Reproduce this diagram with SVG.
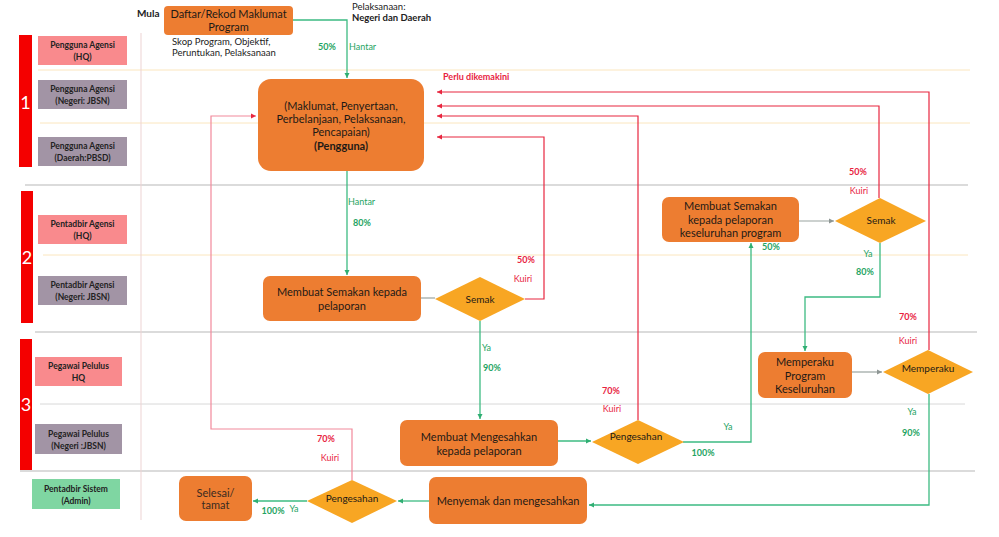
<svg xmlns="http://www.w3.org/2000/svg" width="999" height="537" viewBox="0 0 999 537">
<style>
text{font-family:Lato,"Liberation Sans",sans-serif;}
.bar{fill:#F40000;}
.barn{fill:#fff;font-size:18px;text-anchor:middle;}
.lp{fill:#F98A8D;}
.lg{fill:#A294A5;}
.la{fill:#7FD6A2;}
.lt{font-size:8.5px;font-weight:bold;fill:#222;text-anchor:middle;}
.box{fill:#ED7D31;}
.dia{fill:#F8A623;}
.bt{font-size:11px;fill:#1E1A16;text-anchor:middle;}
.dt{font-size:10px;fill:#1E1A16;text-anchor:middle;}
.note{font-size:9.5px;fill:#222;}
.gl{fill:#1FA463;font-size:9px;}
.gb{fill:#1FA463;font-size:9px;font-weight:bold;}
.rl{fill:#E8233F;font-size:9px;}
.rb{fill:#E8233F;font-size:9px;font-weight:bold;}
.ly{stroke:#FBE6BE;stroke-width:1;}
.lgr{stroke:#B8B8B8;stroke-width:1.2;}
.llg{stroke:#D8D8D8;stroke-width:1;}
.cg{fill:none;stroke:#3DBB82;stroke-width:1.3;}
.cr{fill:none;stroke:#E8263F;stroke-width:1.2;}
.cp{fill:none;stroke:#F2899B;stroke-width:1.2;}
.cy{fill:none;stroke:#9AA3A0;stroke-width:1.2;}
</style>
<defs>
<marker id="ag" markerWidth="6" markerHeight="6" refX="5" refY="3" orient="auto" markerUnits="userSpaceOnUse"><path d="M0,0.5 L5,3 L0,5.5 z" fill="#2FAE72"/></marker>
<marker id="ar" markerWidth="6" markerHeight="6" refX="5" refY="3" orient="auto" markerUnits="userSpaceOnUse"><path d="M0,0.5 L5,3 L0,5.5 z" fill="#E8263F"/></marker>
<marker id="ap" markerWidth="6" markerHeight="6" refX="5" refY="3" orient="auto" markerUnits="userSpaceOnUse"><path d="M0,0.5 L5,3 L0,5.5 z" fill="#E8263F"/></marker>
<marker id="ay" markerWidth="6" markerHeight="6" refX="5" refY="3" orient="auto" markerUnits="userSpaceOnUse"><path d="M0,0.5 L5,3 L0,5.5 z" fill="#8E9694"/></marker>
</defs>
<rect width="999" height="537" fill="#fff"/>

<g id="swimlanes">
<line class="ly" x1="38" y1="70" x2="970" y2="70"/>
<line class="ly" x1="40" y1="123" x2="970" y2="123"/>
<line class="lgr" x1="25" y1="185" x2="968" y2="185"/>
<line class="ly" x1="43" y1="255" x2="968" y2="255"/>
<line class="lgr" x1="35" y1="332" x2="977" y2="332"/>
<line class="llg" x1="40" y1="404" x2="965" y2="404"/>
<line class="lgr" x1="20" y1="471" x2="975" y2="471"/>
<line x1="141" y1="33" x2="141" y2="520" stroke="#EDD3D3" stroke-width="1"/>
<rect class="bar" x="19" y="35" width="13" height="132"/>
<text class="barn" x="25.5" y="109">1</text>
<rect class="bar" x="21" y="191" width="12" height="132"/>
<text class="barn" x="27" y="264">2</text>
<rect class="bar" x="20" y="339" width="12" height="131"/>
<text class="barn" x="26" y="411">3</text>
</g>

<g id="lane-labels">
<g id="lane-pengguna-hq"><rect class="lp" x="38" y="36" width="89" height="29"/><text class="lt" x="82.5" y="48">Pengguna Agensi</text><text class="lt" x="82.5" y="60">(HQ)</text></g>
<g id="lane-pengguna-negeri"><rect class="lg" x="38" y="80" width="89" height="29"/><text class="lt" x="82.5" y="92">Pengguna Agensi</text><text class="lt" x="82.5" y="104">(Negeri: JBSN)</text></g>
<g id="lane-pengguna-daerah"><rect class="lg" x="38" y="137" width="89" height="29"/><text class="lt" x="82.5" y="149">Pengguna Agensi</text><text class="lt" x="82.5" y="161">(Daerah:PBSD)</text></g>
<g id="lane-pentadbir-hq"><rect class="lp" x="38" y="215" width="89" height="29"/><text class="lt" x="82.5" y="227">Pentadbir Agensi</text><text class="lt" x="82.5" y="239">(HQ)</text></g>
<g id="lane-pentadbir-negeri"><rect class="lg" x="38" y="276" width="89" height="29"/><text class="lt" x="82.5" y="288">Pentadbir Agensi</text><text class="lt" x="82.5" y="300">(Negeri: JBSN)</text></g>
<g id="lane-pelulus-hq"><rect class="lp" x="35" y="357" width="87" height="29"/><text class="lt" x="78.5" y="369">Pegawai Pelulus</text><text class="lt" x="78.5" y="381">HQ</text></g>
<g id="lane-pelulus-negeri"><rect class="lg" x="35" y="424" width="87" height="30"/><text class="lt" x="78.5" y="437">Pegawai Pelulus</text><text class="lt" x="78.5" y="449">(Negeri :JBSN)</text></g>
<g id="lane-admin"><rect class="la" x="32" y="479" width="88" height="30"/><text class="lt" x="76" y="492">Pentadbir Sistem</text><text class="lt" x="76" y="504">(Admin)</text></g>
</g>

<g id="connectors">
<path class="cg" d="M293,20 H347 V78" marker-end="url(#ag)"/>
<path class="cg" d="M347,171 V275" marker-end="url(#ag)"/>
<path class="cy" d="M421,298 H435"/>
<path class="cr" d="M525,299 H544 V137 H437" marker-end="url(#ar)"/>
<path class="cg" d="M480,321 V419" marker-end="url(#ag)"/>
<path class="cg" d="M558,441 H591" marker-end="url(#ag)"/>
<path class="cr" d="M638,420 V116 H437" marker-end="url(#ar)"/>
<path class="cg" d="M683,442 H751 V243" marker-end="url(#ag)"/>
<path class="cy" d="M799,221 H834" marker-end="url(#ay)"/>
<path class="cr" d="M879,198 V106 H437" marker-end="url(#ar)"/>
<path class="cg" d="M880,243 V297 H805 V351" marker-end="url(#ag)"/>
<path class="cy" d="M852,372 H882" marker-end="url(#ay)"/>
<path class="cr" d="M929,350 V92 H437" marker-end="url(#ar)"/>
<path class="cg" d="M929,394 V505 H589" marker-end="url(#ag)"/>
<path class="cg" d="M429,501 H398" marker-end="url(#ag)"/>
<path class="cg" d="M307,501 H253" marker-end="url(#ag)"/>
<path class="cp" d="M352,480 V429 H211 V116 H256" marker-end="url(#ap)"/>
</g>

<g id="connector-labels">
<text class="gb" x="327" y="50" text-anchor="middle">50%</text>
<text class="gl" x="349" y="50">Hantar</text>
<text class="gl" x="348" y="205">Hantar</text>
<text class="gb" x="362" y="226" text-anchor="middle">80%</text>
<text class="rb" x="526" y="263" text-anchor="middle">50%</text>
<text class="rl" x="523" y="282" text-anchor="middle">Kuiri</text>
<text class="gl" x="482" y="351">Ya</text>
<text class="gb" x="483" y="371">90%</text>
<text class="rb" x="326" y="442" text-anchor="middle">70%</text>
<text class="rl" x="330" y="461" text-anchor="middle">Kuiri</text>
<text class="rb" x="611" y="394" text-anchor="middle">70%</text>
<text class="rl" x="612" y="412" text-anchor="middle">Kuiri</text>
<text class="gl" x="728" y="430" text-anchor="middle">Ya</text>
<text class="gb" x="703" y="456" text-anchor="middle">100%</text>
<text class="gb" x="771" y="250" text-anchor="middle">50%</text>
<text class="rb" x="858" y="175" text-anchor="middle">50%</text>
<text class="rl" x="859" y="194" text-anchor="middle">Kuiri</text>
<text class="gl" x="868" y="257" text-anchor="middle">Ya</text>
<text class="gb" x="865" y="275" text-anchor="middle">80%</text>
<text class="rb" x="908" y="320" text-anchor="middle">70%</text>
<text class="rl" x="908" y="344" text-anchor="middle">Kuiri</text>
<text class="gl" x="912" y="415" text-anchor="middle">Ya</text>
<text class="gb" x="911" y="436" text-anchor="middle">90%</text>
<text class="gb" x="273" y="514" text-anchor="middle">100%</text>
<text class="gl" x="294" y="512" text-anchor="middle">Ya</text>
<text class="rb" x="443" y="80">Perlu dikemakini</text>
</g>

<g id="notes">
<text x="137" y="17" font-size="10px" font-weight="bold" fill="#222">Mula</text>
<text class="note" x="172" y="45">Skop Program, Objektif,</text>
<text class="note" x="172" y="56">Peruntukan, Pelaksanaan</text>
<text class="note" x="352" y="10">Pelaksanaan:</text>
<text class="note" x="352" y="21" font-weight="bold">Negeri dan Daerah</text>
</g>

<g id="node-daftar">
<rect class="box" x="164" y="6" width="129" height="29" rx="4"/>
<text class="bt" x="228.5" y="18">Daftar/Rekod Maklumat</text>
<text class="bt" x="228.5" y="31">Program</text>
</g>

<g id="node-maklumat">
<rect class="box" x="258" y="79" width="166" height="92" rx="13"/>
<text class="bt" x="341" y="110">(Maklumat, Penyertaan,</text>
<text class="bt" x="341" y="123">Perbelanjaan, Pelaksanaan,</text>
<text class="bt" x="341" y="136">Pencapaian)</text>
<text class="bt" x="341" y="150" font-weight="bold">(Pengguna)</text>
</g>

<g id="node-semakan">
<rect class="box" x="263" y="276" width="158" height="45" rx="7"/>
<text class="bt" x="342" y="296" font-size="11.5px">Membuat Semakan kepada</text>
<text class="bt" x="342" y="310" font-size="11.5px">pelaporan</text>
</g>

<g id="node-semak-1">
<polygon class="dia" points="435,299 480,277 525,299 480,321"/>
<text class="dt" x="480" y="302.5" font-size="9.5px">Semak</text>
</g>

<g id="node-mengesahkan">
<rect class="box" x="400" y="420" width="158" height="46" rx="7"/>
<text class="bt" x="479" y="441" font-size="12px">Membuat Mengesahkan</text>
<text class="bt" x="479" y="455" font-size="12px">kepada pelaporan</text>
</g>

<g id="node-pengesahan-1">
<polygon class="dia" points="592,442 638,420 684,442 638,464"/>
<text class="dt" x="636" y="440">Pengesahan</text>
</g>

<g id="node-semakan-keseluruhan">
<rect class="box" x="662" y="197" width="137" height="45" rx="7"/>
<text class="bt" x="730.5" y="210" font-size="10.5px">Membuat Semakan</text>
<text class="bt" x="730.5" y="223.5" font-size="10.5px">kepada pelaporan</text>
<text class="bt" x="730.5" y="237" font-size="10.5px">keseluruhan program</text>
</g>

<g id="node-semak-2">
<polygon class="dia" points="835,221 880,198 926,221 880,243"/>
<text class="dt" x="881" y="224" font-size="9.5px">Semak</text>
</g>

<g id="node-memperaku-program">
<rect class="box" x="758" y="352" width="94" height="46" rx="7"/>
<text class="bt" x="805" y="366">Memperaku</text>
<text class="bt" x="805" y="380">Program</text>
<text class="bt" x="805" y="393">Keseluruhan</text>
</g>

<g id="node-memperaku">
<polygon class="dia" points="883,372 928,350 973,372 928,394"/>
<text class="dt" x="928" y="372">Memperaku</text>
</g>

<g id="node-menyemak">
<rect class="box" x="429" y="477" width="158" height="47" rx="7"/>
<text class="bt" x="508" y="505">Menyemak dan mengesahkan</text>
</g>

<g id="node-pengesahan-2">
<polygon class="dia" points="307,501 352,480 397,501 352,523"/>
<text class="dt" x="352" y="502">Pengesahan</text>
</g>

<g id="node-selesai">
<rect class="box" x="179" y="476" width="73" height="45" rx="7"/>
<text x="215.5" y="497" font-family="Liberation Sans,Arial,sans-serif" font-size="11px" fill="#3A2A20" text-anchor="middle">Selesai/</text>
<text x="215.5" y="509" font-family="Liberation Sans,Arial,sans-serif" font-size="11px" fill="#3A2A20" text-anchor="middle">tamat</text>
</g>
</svg>
